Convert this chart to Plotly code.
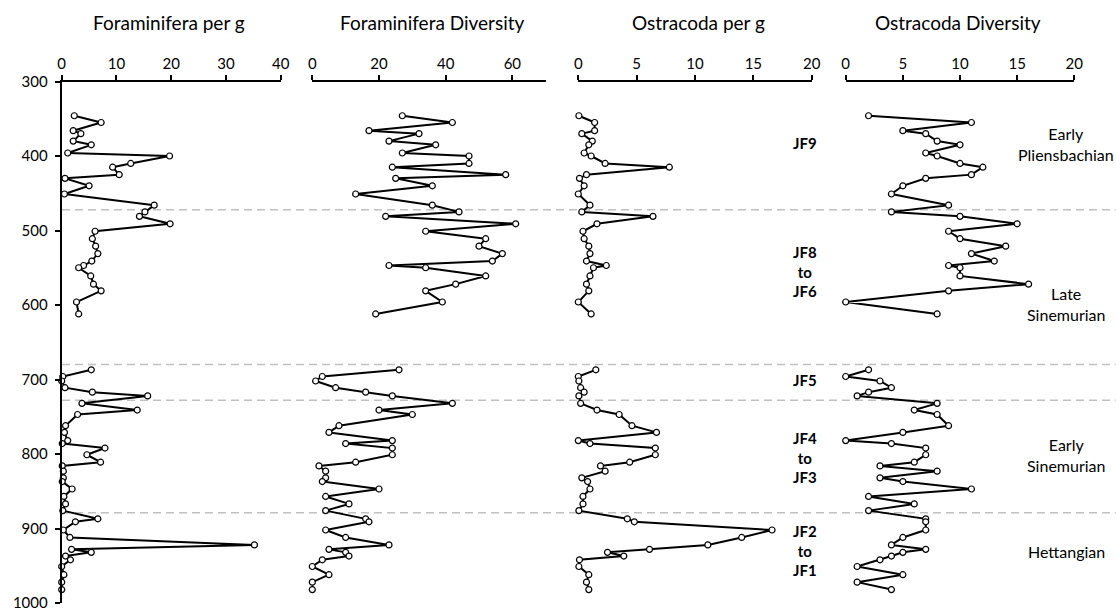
import plotly.graph_objects as go

# ---------------- data ----------------
upper_depth = [346, 355, 366, 370, 380, 385, 396, 400, 410, 415, 425, 430, 440, 451, 466,
               475, 481, 491, 501, 511, 521, 531, 541, 547, 550, 561, 572, 581, 596, 612]
lower_depth = [687, 696, 702, 711, 717, 722, 732, 741, 747, 762, 771, 782, 786, 792, 801,
               811, 816, 823, 832, 837, 847, 857, 867, 876, 887, 891, 902, 912, 922, 928,
               932, 937, 942, 951, 962, 972, 982]

foram_g_upper = [2.3, 7.2, 2.1, 3.5, 2.1, 5.4, 1.1, 19.7, 12.6, 9.3, 10.5, 0.6, 5.0, 0.5, 16.9,
                 15.2, 14.2, 19.8, 6.1, 5.6, 6.2, 6.6, 5.5, 4.0, 3.1, 5.3, 5.8, 7.2, 2.7, 3.1]
foram_g_lower = [5.4, 0.2, 0.0, 0.6, 5.6, 15.7, 3.7, 13.8, 2.9, 0.7, 0.5, 1.1, 0.1, 7.9, 4.6,
                 7.1, 0.1, 0.3, 0.3, 0.1, 1.9, 0.4, 0.7, 0.2, 6.6, 2.5, 0.3, 1.5, 35.2, 1.8,
                 5.4, 0.7, 1.6, 0.0, 0.4, 0.0, 0.0]

foram_div_upper = [27, 42, 17, 32, 23, 37, 27, 47, 47, 24, 58, 25, 36, 13, 36,
                   44, 22, 61, 34, 52, 50, 57, 54, 23, 34, 52, 43, 34, 39, 19]
foram_div_lower = [26, 3, 1, 7, 16, 24, 42, 20, 30, 8, 5, 24, 10, 24, 24,
                   13, 2, 4, 4, 3, 20, 4, 11, 4, 16, 17, 4, 10, 23, 5,
                   10, 11, 3, 0, 5, 0, 0]

ostra_g_upper = [0.05, 1.4, 1.4, 0.3, 1.2, 0.9, 0.5, 1.1, 2.3, 7.8, 0.7, 0.1, 0.5, 0.0, 1.0,
                 0.3, 6.4, 1.6, 0.4, 0.5, 0.9, 1.0, 0.7, 2.4, 1.3, 1.0, 0.7, 0.9, 0.0, 1.1]
ostra_g_lower = [1.5, 0.0, 0.05, 0.2, 0.5, 0.05, 0.2, 1.6, 3.5, 4.6, 6.7, 0.0, 1.0, 6.6, 6.6,
                 4.4, 1.9, 2.3, 0.3, 0.8, 1.0, 0.4, 0.4, 0.05, 4.2, 4.8, 16.6, 14.0, 11.1, 6.1,
                 2.5, 3.9, 0.1, 0.05, 0.9, 0.7, 0.9]

ostra_div_upper = [2, 11, 5, 7, 8, 10, 7, 8, 10, 12, 11, 7, 5, 4, 9,
                   4, 10, 15, 9, 10, 14, 11, 13, 9, 10, 10, 16, 9, 0, 8]
ostra_div_lower = [2, 0, 3, 4, 2, 1, 8, 6, 8, 9, 5, 0, 4, 7, 7,
                   6, 3, 8, 3, 5, 11, 2, 6, 2, 7, 7, 7, 5, 4, 7,
                   5, 4, 3, 1, 5, 1, 4]

panel_titles = ["Foraminifera per g", "Foraminifera Diversity", "Ostracoda per g", "Ostracoda Diversity"]
x_ranges = [(0, 40), (0, 70), (0, 20), (0, 20)]
x_dticks = [10, 20, 5, 5]
y_ticks = [300, 400, 500, 600, 700, 800, 900, 1000]

boundary_depths = [472, 680, 728, 879]
zone_labels = ["JF9", "JF8<br>to<br>JF6", "JF5", "JF4<br>to<br>JF3", "JF2<br>to<br>JF1"]
zone_label_depths = [382, 555, 700, 805, 930]
stage_labels = ["Early<br>Pliensbachian", "Late<br>Sinemurian", "Early<br>Sinemurian", "Hettangian"]
stage_label_depths = [384, 598, 802, 931]

# ---------------- layout helpers ----------------
W, H = 1116, 613
def px(x):
    return x / W
def py(y):
    return 1 - y / H

panel_px = [(61.7, 280.7), (312.3, 545.7), (578.3, 811.7), (845.7, 1074.3)]
plot_top, plot_bottom = 81.5, 603.0

FONT = "Lato, 'Liberation Sans', sans-serif"

depth = upper_depth + [None] + lower_depth
series = [
    foram_g_upper + [None] + foram_g_lower,
    foram_div_upper + [None] + foram_div_lower,
    ostra_g_upper + [None] + ostra_g_lower,
    ostra_div_upper + [None] + ostra_div_lower,
]

fig = go.Figure()

axis_names = ["x", "x2", "x3", "x4"]
for i, vals in enumerate(series):
    fig.add_trace(go.Scatter(
        x=vals, y=depth, xaxis=axis_names[i], yaxis="y",
        mode="lines+markers", connectgaps=False,
        line=dict(color="black", width=2),
        marker=dict(symbol="circle", size=6, color="white",
                    line=dict(color="black", width=1.2)),
        showlegend=False, cliponaxis=False,
    ))

layout = dict(
    width=W, height=H,
    margin=dict(l=0, r=0, t=0, b=0, autoexpand=False),
    paper_bgcolor="white", plot_bgcolor="white",
    font=dict(family=FONT, color="black"),
    showlegend=False,
    yaxis=dict(
        domain=[py(plot_bottom), py(plot_top)],
        range=[1000, 300], tickvals=y_ticks,
        showline=True, linecolor="black", linewidth=2,
        ticks="outside", ticklen=5, tickwidth=1.5, tickcolor="black",
        showgrid=False, zeroline=False, automargin=False,
        tickfont=dict(size=15, family=FONT), anchor="x",
        ticklabelstandoff=4,
    ),
)
for i in range(4):
    key = "xaxis" if i == 0 else "xaxis%d" % (i + 1)
    x0, x1 = panel_px[i]
    layout[key] = dict(
        domain=[px(x0), px(x1)], range=list(x_ranges[i]),
        dtick=x_dticks[i], tick0=0, side="top", anchor="y",
        showline=True, linecolor="black", linewidth=2,
        ticks="outside", ticklen=5, tickwidth=1.5, tickcolor="black",
        showgrid=False, zeroline=False, automargin=False,
        tickfont=dict(size=15, family=FONT),
    )
fig.update_layout(**layout)

shapes = []
for d in boundary_depths:
    shapes.append(dict(type="line", xref="paper", yref="y",
                       x0=px(62), x1=1.0, y0=d, y1=d,
                       line=dict(color="#c0c0c0", width=1.5, dash="8px,5px"),
                       layer="below"))
fig.update_layout(shapes=shapes)

ann = []
title_centers = [169, 432, 698, 958]
for t, cx in zip(panel_titles, title_centers):
    ann.append(dict(text=t, x=px(cx), y=py(22), xref="paper", yref="paper",
                    showarrow=False, font=dict(size=19, family=FONT),
                    xanchor="center", yanchor="middle"))
for t, d in zip(zone_labels, zone_label_depths):
    ann.append(dict(text="<b>" + t + "</b>", x=px(805), y=d, xref="paper", yref="y",
                    showarrow=False, font=dict(size=15, family=FONT),
                    xanchor="center", yanchor="middle", align="center"))
for t, d in zip(stage_labels, stage_label_depths):
    ann.append(dict(text=t, x=px(1066), y=d, xref="paper", yref="y",
                    showarrow=False, font=dict(size=16, family=FONT),
                    xanchor="center", yanchor="middle", align="center"))
fig.update_layout(annotations=ann)

fig.write_html("out.html",
               config={"displayModeBar": False},
               post_script="document.body.style.margin='0';document.body.style.overflow='hidden';")
